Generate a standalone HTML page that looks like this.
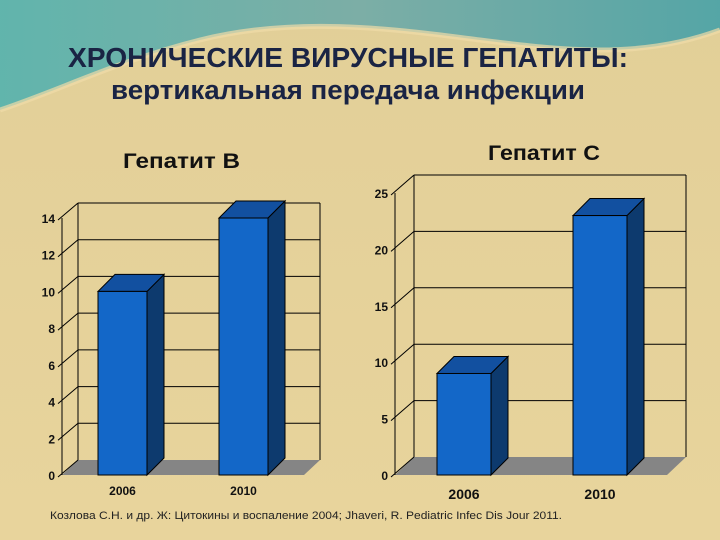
<!DOCTYPE html>
<html><head><meta charset="utf-8">
<style>
body{margin:0;width:720px;height:540px;overflow:hidden;background:#e6d197;font-family:"Liberation Sans",sans-serif;}
svg{display:block}
</style></head><body>
<svg id="s" width="720" height="540" xmlns="http://www.w3.org/2000/svg">
<defs>
<linearGradient id="bg" x1="0" y1="0" x2="0" y2="1">
<stop offset="0" stop-color="#e2cf98"/><stop offset="1" stop-color="#e8d49c"/>
</linearGradient>
<linearGradient id="tl" x1="0" y1="0" x2="1" y2="0">
<stop offset="0" stop-color="#4ab0b0"/><stop offset="0.5" stop-color="#6aa8a8"/><stop offset="1" stop-color="#3c9ea8"/>
</linearGradient>
</defs>
<rect width="720" height="540" fill="url(#bg)"/>
<path d="M0,0 H720 V30 C640,60 560,50 480,40 C400,30 300,15 200,40 C120,60 60,90 0,110 Z" fill="url(#tl)" opacity="0.85"/>
<path d="M0,110 C60,90 120,60 200,40 C300,15 400,30 480,40 C560,50 640,60 720,30" fill="none" stroke="#f0dca8" stroke-width="5" opacity="0.7"/>
<text x="68" y="67" textLength="560" lengthAdjust="spacingAndGlyphs" font-size="28" font-weight="bold" fill="#1a2444">ХРОНИЧЕСКИЕ ВИРУСНЫЕ ГЕПАТИТЫ:</text>
<text x="111" y="99" textLength="474" lengthAdjust="spacingAndGlyphs" font-size="27" font-weight="bold" fill="#1a2444">вертикальная передача инфекции</text>
<text x="123" y="168" textLength="117" lengthAdjust="spacingAndGlyphs" font-size="21" font-weight="bold" fill="#111">Гепатит В</text>
<text x="488" y="160" textLength="112" lengthAdjust="spacingAndGlyphs" font-size="21" font-weight="bold" fill="#111">Гепатит С</text>
<text x="50" y="519" textLength="512" lengthAdjust="spacingAndGlyphs" font-size="11" fill="#222">Козлова С.Н. и др. Ж: Цитокины и воспаление 2004; Jhaveri, R. Pediatric Infec Dis Jour 2011.</text>
<g id="cb"></g>
<g id="cc"></g>
</svg>
<script>
const categories = ["2006","2010"];
const valuesB = [10, 14];
const valuesC = [9, 23];
const ticksB = [0,2,4,6,8,10,12,14];
const ticksC = [0,5,10,15,20,25];
const NS="http://www.w3.org/2000/svg";
function mk(p,t,a){const e=document.createElementNS(NS,t);for(const k in a)e.setAttribute(k,a[k]);p.appendChild(e);return e;}
function chart(g,vals,ticks,max,cfg){
  const y=v=>cfg.y0-(v/max)*(cfg.y0-cfg.yTop);
  const dx=cfg.dx,dy=cfg.dy,x0=cfg.x0,xr=cfg.xr;
  let f=mk(g,'polygon',{points:`${x0},${cfg.y0} ${x0+dx},${cfg.y0+dy} ${xr},${cfg.y0+dy} ${xr-dx},${cfg.y0}`,fill:'#858585'});
  
  const topB=y(max)+dy;
  mk(g,'line',{x1:x0+dx,y1:topB,x2:x0+dx,y2:cfg.y0+dy,stroke:'#000','stroke-width':1});
  mk(g,'line',{x1:xr,y1:topB,x2:xr,y2:cfg.y0+dy,stroke:'#000','stroke-width':1});
  mk(g,'line',{x1:x0,y1:y(0),x2:x0,y2:y(max),stroke:'#000','stroke-width':1});
  ticks.forEach(t=>{
    const yy=y(t);
    if(t>0){let gl=mk(g,'line',{x1:x0+dx,y1:yy+dy,x2:xr,y2:yy+dy,stroke:'#000','stroke-width':1});
    }
    mk(g,'line',{x1:x0-4,y1:yy+2,x2:x0+dx,y2:yy+dy,stroke:'#000','stroke-width':1});
    let tx=mk(g,'text',{x:x0-7,y:yy+5,'text-anchor':'end','font-size':12,'font-weight':'bold',fill:'#111'});
    tx.textContent=t;
  });
  vals.forEach((v,i)=>{
    const bx=cfg.bx[i],bw=cfg.bw,top=y(v),bd=cfg.bd;
    const bg=mk(g,'g',{});
    
    mk(bg,'polygon',{points:`${bx+bw},${y(0)} ${bx+bw+bd},${y(0)-bd} ${bx+bw+bd},${top-bd} ${bx+bw},${top}`,fill:'#0d3a6e',stroke:'#000','stroke-width':1});
    mk(bg,'polygon',{points:`${bx},${top} ${bx+bd},${top-bd} ${bx+bw+bd},${top-bd} ${bx+bw},${top}`,fill:'#1250a0',stroke:'#000','stroke-width':1});
    mk(bg,'rect',{x:bx,y:top,width:bw,height:y(0)-top,fill:'#1367c8',stroke:'#000','stroke-width':1});
    let lt=mk(g,'text',{x:bx+bw/2,y:cfg.y0+cfg.ly,'text-anchor':'middle','font-size':cfg.lf,'font-weight':'bold',fill:'#111'});
    lt.textContent=categories[i];
  });
}
chart(document.getElementById('cb'),valuesB,ticksB,14,{x0:62,xr:320,y0:475,yTop:218,dx:16,dy:-15,bx:[98,219],bw:49,bd:17,ly:20,lf:12});
chart(document.getElementById('cc'),valuesC,ticksC,25,{x0:395,xr:686,y0:475,yTop:193,dx:19,dy:-18,bx:[437,573],bw:54,bd:17,ly:24,lf:14});
</script>
</body></html>
